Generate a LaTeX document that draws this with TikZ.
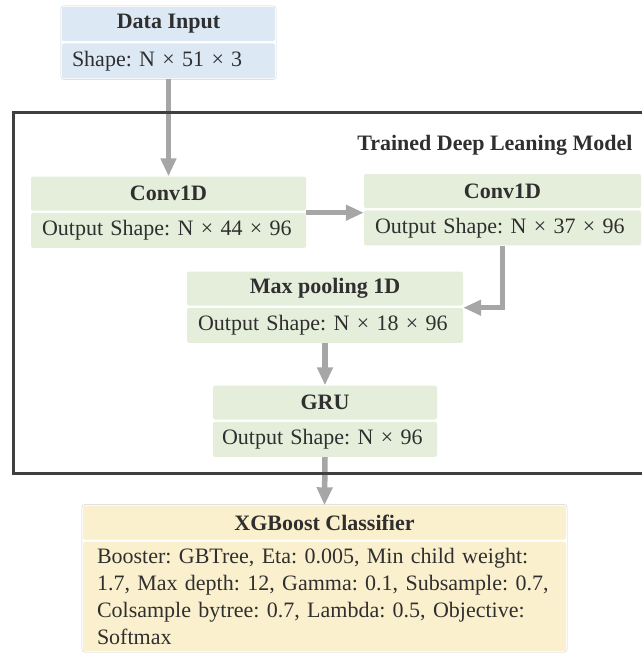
\documentclass[tikz,border=0pt]{standalone}
\usepackage{fontspec}
\setmainfont{Liberation Serif}
\usetikzlibrary{arrows.meta,positioning}

\definecolor{inblue}{HTML}{DCE9F5}
\definecolor{lgreen}{HTML}{E5EEDB}
\definecolor{lyellow}{HTML}{FBF0CD}
\definecolor{argray}{HTML}{A6A6A6}
\definecolor{txtgray}{HTML}{2F2F2F}
\definecolor{frgray}{HTML}{3F3F3F}

\begin{document}
\frenchspacing
\begin{tikzpicture}[x=1pt, y=-1pt,
    head/.style={minimum height=34pt, inner sep=0pt, text=txtgray, rounded corners=2pt,
        font=\fontsize{22}{26}\selectfont\bfseries},
    body/.style={minimum height=35pt, inner sep=0pt, text=txtgray, align=left, rounded corners=2pt,
        font=\fontsize{22}{27}\selectfont},
    flow/.style={draw=argray, line width=5.5pt, -{Triangle[width=15pt,length=18pt]}}]
    \useasboundingbox (0,0) rectangle (642,654);

    % input
    \node[head, fill=inblue, minimum width=213pt] (in) at (168.5,24) {Data Input};
    \node[body, fill=inblue, minimum width=213pt, text width=193pt, below=2pt of in] (in-b) {Shape: N × 51 × 3};
    \draw[black!18, rounded corners=3pt] ([shift={(-1,-1)}]in.north west) rectangle ([shift={(1,1)}]in-b.south east);

    % layers of the trained model
    \node[head, fill=lgreen, minimum width=275pt] (conva) at (168.5,193.5) {Conv1D};
    \node[body, fill=lgreen, minimum width=275pt, text width=253pt, below=2pt of conva] (conva-b) {Output Shape: N × 44 × 96};

    \node[head, fill=lgreen, minimum width=277pt] (convb) at (502.5,191) {Conv1D};
    \node[body, fill=lgreen, minimum width=277pt, text width=255pt, below=2pt of convb] (convb-b) {Output Shape: N × 37 × 96};

    \node[head, fill=lgreen, minimum width=276pt] (pool) at (325,288.5) {Max pooling 1D};
    \node[body, fill=lgreen, minimum width=276pt, text width=254pt, below=2pt of pool] (pool-b) {Output Shape: N × 18 × 96};

    \node[head, fill=lgreen, minimum width=224pt] (gru) at (325,402.5) {GRU};
    \node[body, fill=lgreen, minimum width=224pt, text width=206pt, below=2pt of gru] (gru-b) {Output Shape: N × 96};

    % classifier
    \node[head, fill=lyellow, minimum width=483pt] (xgb) at (324.5,522.5) {XGBoost Classifier};
    \node[body, fill=lyellow, minimum width=483pt, minimum height=109pt, text width=455pt, below=2pt of xgb] (xgb-b)
        {Booster: GBTree, Eta: 0.005, Min child weight:\\
         1.7, Max depth: 12, Gamma: 0.1, Subsample: 0.7,\\
         Colsample bytree: 0.7, Lambda: 0.5, Objective:\\
         Softmax};
    \draw[black!18, rounded corners=3pt] ([shift={(-1,-1)}]xgb.north west) rectangle ([shift={(1,1)}]xgb-b.south east);

    % connectors
    \draw[flow] (in-b.south) -- (conva.north);
    \draw[flow] (conva-b.north east) -- (conva-b.north east -| convb.west);
    \draw[flow] (convb-b.south) |- (pool-b.north east);
    \draw[flow] (pool-b.south) -- (gru.north);
    \draw[flow] (gru-b.south) -- (xgb.north);

    % model frame
    \draw[frgray, line width=3pt] (13,112) rectangle (660,473);
    \node[anchor=east, text=txtgray, font=\fontsize{22}{26}\selectfont\bfseries] (model) at (636,145) {Trained Deep Leaning Model};
\end{tikzpicture}
\end{document}
